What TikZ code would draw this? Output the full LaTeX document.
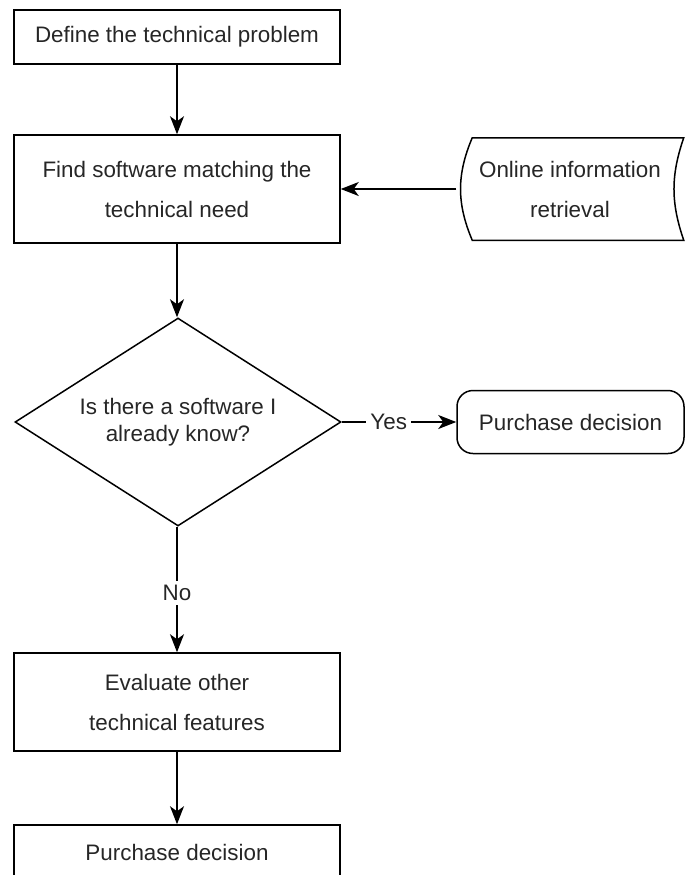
\documentclass[tikz,border=0pt]{standalone}
\usepackage{fontspec}
\setmainfont{Liberation Sans}
\usetikzlibrary{arrows.meta,shapes.geometric,calc}

\begin{document}
\begin{tikzpicture}[x=0.5pt,y=-0.5pt,line width=0.75pt]
    \tikzset{
        box/.style={draw,minimum width=163pt,inner sep=0pt,align=center,text=black!85,
            font=\fontsize{11.2}{20}\selectfont},
        arr/.style={-{Stealth[length=9pt,width=7pt,inset=2.5pt]}},
        lbl/.style={fill=white,inner sep=2pt,text=black!85,font=\fontsize{11.2}{13}\selectfont},}
    \useasboundingbox (0,0) rectangle (685,875);
    \clip (0,0) rectangle (685,875);
    \node[box,minimum height=27pt] (define) at (177,37) {Define the technical problem};
    \node[box,minimum height=54pt] (find) at (177,189) {Find software matching the\\technical need};
    \node[box,draw=none,minimum width=113pt,minimum height=50.5pt] (online) at (570,189) {Online information\\retrieval};
    \draw ($(online.north west)+(16,0)$) -- ($(online.north east)$)
        to[bend right=19] (online.south east)
        -- ($(online.south west)+(16,0)$)
        to[bend left=23] ($(online.north west)+(16,0)$) -- cycle;
    \node[diamond,draw,aspect=1.567,minimum width=163pt,minimum height=104pt,inner sep=0pt,align=center,
        text=black!85,font=\fontsize{11.2}{13.5}\selectfont] (known) at (178,422) {Is there a software I\\already know?};
    \node[box,rounded corners=8pt,minimum width=113.5pt,minimum height=31.5pt] (buy) at (570.5,422) {Purchase decision};
    \node[box,minimum height=49pt] (evaluate) at (177,702) {Evaluate other\\technical features};
    \node[box,minimum height=27pt] (purchase) at (177,852) {Purchase decision};
    % connectors
    \draw[arr] (define) -- (find);
    \draw[arr] (online.west) -- (find);
    \draw[arr] (find) -- (find |- known.north);
    \draw[arr] (known) -- node[lbl,pos=0.41] {Yes} (buy);
    \draw[arr] (known.south -| evaluate) -- node[lbl,pos=0.53] {No} (evaluate);
    \draw[arr] (evaluate) -- (purchase);
\end{tikzpicture}
\end{document}
